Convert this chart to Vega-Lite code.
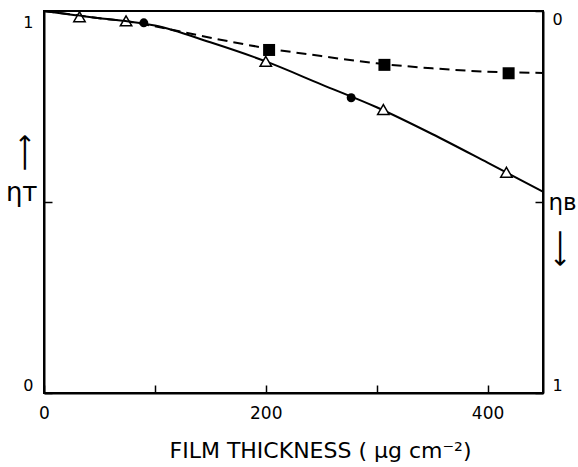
{
  "$schema": "https://vega.github.io/schema/vega-lite/v6.json",
  "width": 499,
  "height": 382,
  "autosize": {"type": "none"},
  "padding": {"left": 44, "top": 11, "right": 35, "bottom": 74},
  "background": "white",
  "config": {
    "view": {"stroke": "black", "strokeWidth": 2},
    "font": "DejaVu Sans",
    "axis": {
      "grid": false,
      "domainColor": "black",
      "domainWidth": 2,
      "tickColor": "black",
      "tickWidth": 1.5,
      "labelColor": "black",
      "titleColor": "black",
      "labelFont": "DejaVu Sans",
      "titleFont": "DejaVu Sans",
      "labelFontSize": 16,
      "titleFontWeight": "normal"
    }
  },
  "datasets": {
    "curveT": [
      {"t": 0, "eta_T": 1.0},
      {"t": 25, "eta_T": 0.99},
      {"t": 50, "eta_T": 0.981},
      {"t": 75, "eta_T": 0.973},
      {"t": 100, "eta_T": 0.962},
      {"t": 150, "eta_T": 0.918},
      {"t": 200, "eta_T": 0.868},
      {"t": 250, "eta_T": 0.808},
      {"t": 300, "eta_T": 0.748},
      {"t": 350, "eta_T": 0.678},
      {"t": 400, "eta_T": 0.603},
      {"t": 450, "eta_T": 0.527}
    ],
    "triangles": [
      {"t": 32, "eta_T": 0.985},
      {"t": 74, "eta_T": 0.974},
      {"t": 200, "eta_T": 0.868},
      {"t": 306, "eta_T": 0.742},
      {"t": 417, "eta_T": 0.578}
    ],
    "dots": [
      {"t": 90, "eta_T": 0.969},
      {"t": 277, "eta_T": 0.773}
    ],
    "curveB": [
      {"t": 0, "eta_B": 0.0},
      {"t": 25, "eta_B": 0.009},
      {"t": 50, "eta_B": 0.019},
      {"t": 75, "eta_B": 0.027},
      {"t": 100, "eta_B": 0.04},
      {"t": 150, "eta_B": 0.07},
      {"t": 200, "eta_B": 0.097},
      {"t": 250, "eta_B": 0.118},
      {"t": 300, "eta_B": 0.137},
      {"t": 350, "eta_B": 0.15},
      {"t": 400, "eta_B": 0.159},
      {"t": 450, "eta_B": 0.162}
    ],
    "squares": [
      {"t": 203, "eta_B": 0.102},
      {"t": 307, "eta_B": 0.141},
      {"t": 419, "eta_B": 0.163}
    ]
  },
  "encoding": {
    "x": {
      "field": "t",
      "type": "quantitative",
      "scale": {"domain": [0, 450], "nice": false},
      "axis": {
        "values": [0, 100, 200, 300, 400],
        "labelExpr": "datum.value % 200 === 0 ? datum.label : ''",
        "tickSize": -8,
        "labelPadding": 20,
        "labelFontSize": 17,
        "labelFlush": false,
        "title": "FILM THICKNESS ( μg cm⁻²)",
        "titleFontSize": 22,
        "titleX": 276,
        "titleY": 64,
        "titleAlign": "center",
        "titleBaseline": "alphabetic"
      }
    }
  },
  "layer": [
    {
      "encoding": {
        "y": {
          "field": "eta_T",
          "type": "quantitative",
          "scale": {"domain": [0, 1], "nice": false},
          "axis": {
            "orient": "left",
            "values": [0, 0.5, 1],
            "labelExpr": "datum.value == 0.5 ? 'ηᴛ' : format(datum.value, 'd')",
            "tickSize": -8,
            "labelPadding": {"expr": "datum.value == 0.5 ? 15 : 19"},
            "labelFontSize": {"expr": "datum.value == 0.5 ? 26 : 16"},
            "labelBaseline": {"expr": "datum.value == 0.5 ? 'alphabetic' : (datum.value == 1 ? 'top' : 'bottom')"},
            "labelOffset": {"expr": "datum.value == 0.5 ? -2 : (datum.value == 1 ? 3 : 0)"},
            "labelFlush": false,
            "title": "⟶",
            "titleAngle": 270,
            "titleFontSize": 26,
            "titleAlign": "center",
            "titleBaseline": "middle",
            "titleX": -20,
            "titleY": 141
          }
        }
      },
      "layer": [
        {
          "data": {"name": "curveT"},
          "mark": {"type": "line", "color": "black", "strokeWidth": 2, "interpolate": "monotone"}
        },
        {
          "data": {"name": "triangles"},
          "mark": {"type": "point", "shape": "triangle-up", "size": 130, "filled": true, "fill": "white", "stroke": "black", "strokeWidth": 1.5, "opacity": 1}
        },
        {
          "data": {"name": "dots"},
          "mark": {"type": "point", "shape": "circle", "size": 80, "filled": true, "color": "black", "opacity": 1}
        }
      ]
    },
    {
      "encoding": {
        "y": {
          "field": "eta_B",
          "type": "quantitative",
          "scale": {"domain": [0, 1], "nice": false, "reverse": true},
          "axis": {
            "orient": "right",
            "values": [0, 0.5, 1],
            "labelExpr": "datum.value == 0.5 ? 'ηʙ' : format(datum.value, 'd')",
            "tickSize": -8,
            "labelPadding": {"expr": "datum.value == 0.5 ? 13 : 17"},
            "labelFontSize": {"expr": "datum.value == 0.5 ? 23 : 16"},
            "labelBaseline": {"expr": "datum.value == 0.5 ? 'alphabetic' : (datum.value == 0 ? 'top' : 'bottom')"},
            "labelOffset": {"expr": "datum.value == 0.5 ? 7 : 0"},
            "labelFlush": false,
            "title": "⟶",
            "titleAngle": 90,
            "titleFontSize": 26,
            "titleAlign": "center",
            "titleBaseline": "middle",
            "titleX": 16,
            "titleY": 237
          }
        }
      },
      "layer": [
        {
          "data": {"name": "curveB"},
          "mark": {"type": "line", "color": "black", "strokeWidth": 2, "strokeDash": [10, 6], "interpolate": "monotone"}
        },
        {
          "data": {"name": "squares"},
          "mark": {"type": "point", "shape": "square", "size": 144, "filled": true, "color": "black", "opacity": 1}
        }
      ]
    }
  ],
  "resolve": {"scale": {"y": "independent"}, "axis": {"y": "independent"}}
}
